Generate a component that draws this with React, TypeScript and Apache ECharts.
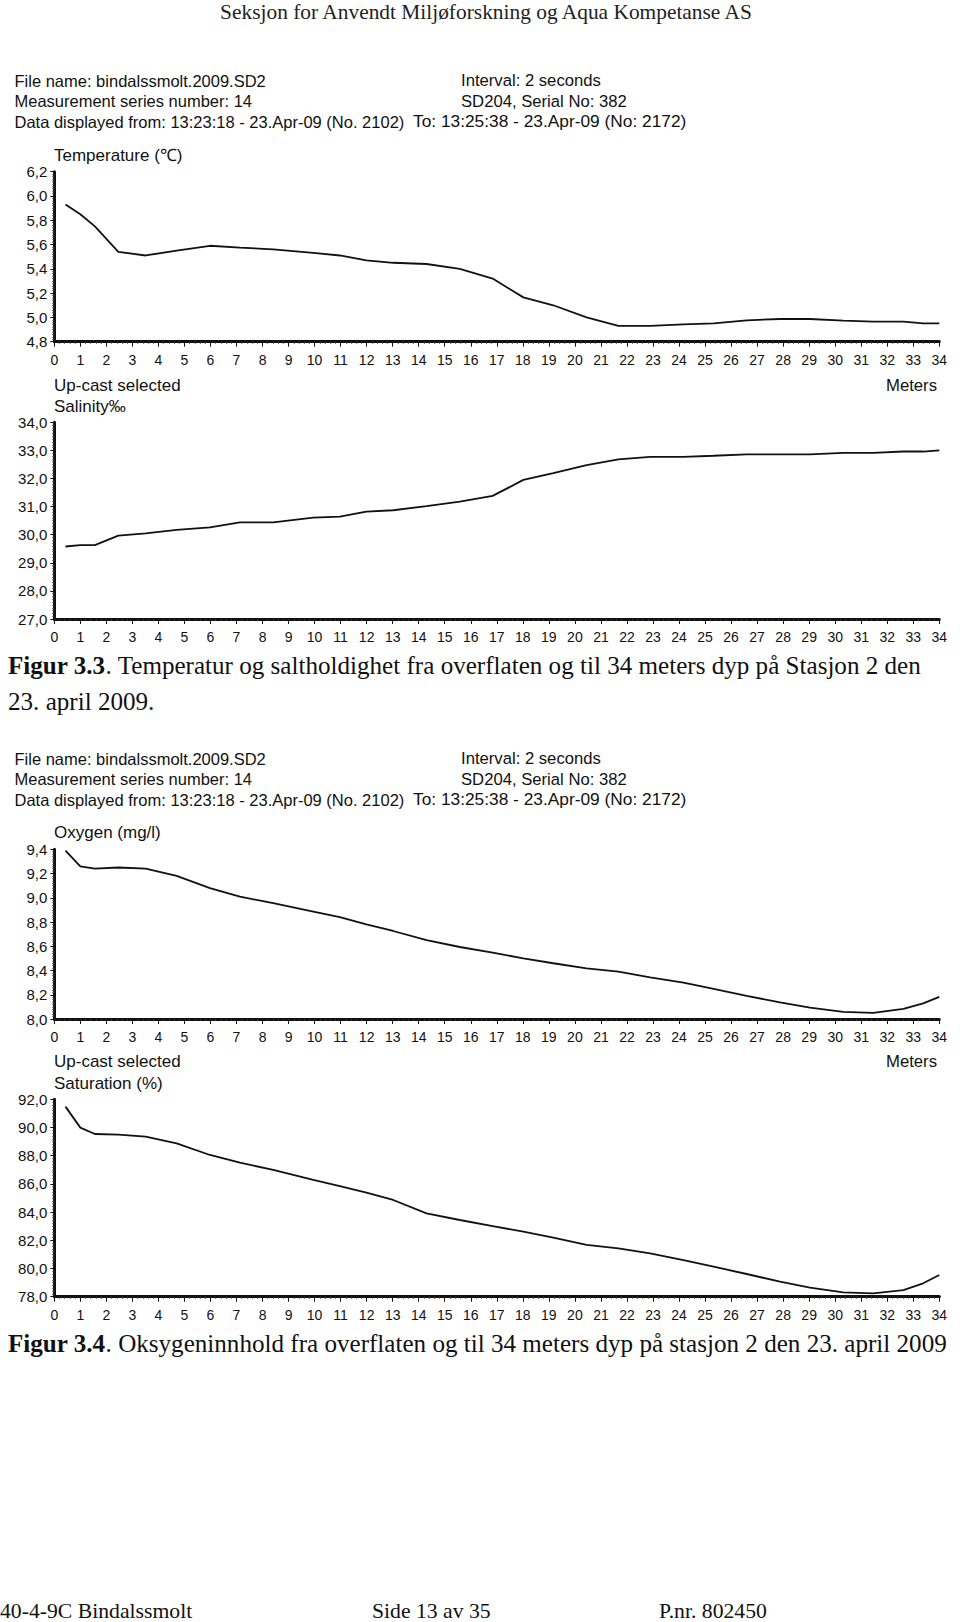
import React, { useEffect, useRef } from "react";
import * as echarts from "echarts";

// ---- data ----
const depths = [
  0.43, 1.0, 1.56, 2.46, 3.51, 4.7, 5.98, 7.13, 8.41, 9.95, 10.97, 11.99, 13.02, 14.3, 15.58, 16.84,
  18.02, 19.17, 20.45, 21.67, 22.89, 24.17, 25.33, 26.6, 27.88, 29.03, 30.31, 31.46, 32.62, 33.38, 34.0,
];
const temperature = [
  5.93, 5.85, 5.75, 5.54, 5.51, 5.55, 5.59, 5.575, 5.56, 5.532, 5.51, 5.47, 5.45, 5.44, 5.4, 5.32,
  5.165, 5.1, 5.0, 4.93, 4.93, 4.943, 4.951, 4.976, 4.987, 4.987, 4.973, 4.965, 4.965, 4.951, 4.951,
];
const salinity = [
  29.58, 29.63, 29.63, 29.97, 30.05, 30.17, 30.26, 30.44, 30.44, 30.61, 30.64, 30.82, 30.87, 31.02, 31.18, 31.38,
  31.95, 32.19, 32.48, 32.68, 32.77, 32.77, 32.81, 32.86, 32.86, 32.86, 32.91, 32.91, 32.96, 32.96, 33.0,
];
const oxygen = [
  9.39, 9.26, 9.24, 9.25, 9.24, 9.18, 9.08, 9.01, 8.955, 8.886, 8.84, 8.78, 8.726, 8.65, 8.594, 8.548,
  8.5, 8.46, 8.417, 8.39, 8.344, 8.3, 8.248, 8.19, 8.138, 8.094, 8.058, 8.05, 8.083, 8.129, 8.182,
];
const saturation = [
  91.48, 89.99, 89.54, 89.49, 89.35, 88.88, 88.05, 87.51, 86.99, 86.28, 85.85, 85.38, 84.86, 83.91, 83.44, 83.01,
  82.61, 82.19, 81.67, 81.43, 81.08, 80.6, 80.13, 79.61, 79.07, 78.64, 78.31, 78.24, 78.47, 78.95, 79.54,
];

const depthMin = 0;
const depthMax = 34;
const yRanges = [
  { min: 4.8, max: 6.2, interval: 0.2 },
  { min: 27, max: 34, interval: 1 },
  { min: 8.0, max: 9.4, interval: 0.2 },
  { min: 78, max: 92, interval: 2 },
];

const headerTitle = "Seksjon for Anvendt Miljøforskning og Aqua Kompetanse AS";
const infoLeft = [
  "File name: bindalssmolt.2009.SD2",
  "Measurement series number: 14",
  "Data displayed from: 13:23:18 - 23.Apr-09 (No. 2102)",
];
const infoRight = ["Interval: 2 seconds", "SD204, Serial No: 382", "To: 13:25:38 - 23.Apr-09 (No: 2172)"];

const SANS = "'Liberation Sans', Arial, sans-serif";
const SERIF = "'Liberation Serif', 'Times New Roman', serif";

const grids = [
  { left: 54.3, top: 171.7, width: 885, height: 170 },
  { left: 54.3, top: 422.3, width: 885, height: 196.7 },
  { left: 54.3, top: 849.3, width: 885, height: 169.7 },
  { left: 54.3, top: 1099.3, width: 885, height: 197.4 },
];

function txt(text: string, x: number, y: number, font: string, align = "left", fill = "#111", scaleX = 1) {
  return {
    type: "text",
    x,
    y,
    scaleX,
    silent: true,
    style: {
      text,
      font,
      fill,
      textAlign: align,
      align,
      textVerticalAlign: "middle",
      verticalAlign: "middle",
    },
  };
}

function infoBlock(ys: number[]) {
  const f = `16.5px ${SANS}`;
  return [
    txt(infoLeft[0], 14.5, ys[0], f),
    txt(infoLeft[1], 14.5, ys[1], f),
    txt(infoLeft[2], 14.5, ys[2], f),
    txt(infoRight[0], 461, ys[0], f, "left", "#111", 1.01),
    txt(infoRight[1], 461, ys[1], f, "left", "#111", 1.01),
    txt(infoRight[2], 413, ys[2], f, "left", "#111", 1.05),
  ];
}

function caption(bold: string, rest: string, x: number, y: number) {
  return {
    type: "text",
    x,
    y,
    silent: true,
    style: {
      text: `{b|${bold}}{r|${rest}}`,
      textAlign: "left",
      align: "left",
      textVerticalAlign: "middle",
      verticalAlign: "middle",
      fill: "#111",
      rich: {
        b: { font: `bold 25.1px ${SERIF}`, fill: "#111" },
        r: { font: `25.1px ${SERIF}`, fill: "#111" },
      },
    },
  };
}

export default function App() {
  const ref = useRef<HTMLDivElement>(null);
  useEffect(() => {
    if (!ref.current) return;
    const chart = echarts.init(ref.current, undefined, { renderer: "svg" });
    const series = [temperature, salinity, oxygen, saturation];
    const fmt = (v: number) => v.toFixed(1).replace(".", ",");
    const option: any = {
      animation: false,
      backgroundColor: "#fff",
      grid: grids.map((g) => ({ ...g, containLabel: false })),
      xAxis: grids.map((_, i) => ({
        type: "value",
        gridIndex: i,
        min: depthMin,
        max: depthMax,
        interval: 1,
        axisLine: { show: true, onZero: false, lineStyle: { color: "#111", width: 3 } },
        axisTick: { show: true, length: 5, lineStyle: { color: "#111", width: 1 } },
        minorTick: { show: true, splitNumber: 5, length: 2, lineStyle: { color: "#333", width: 1 } },
        splitLine: { show: false },
        minorSplitLine: { show: false },
        axisLabel: { fontSize: 14, fontFamily: SANS, color: "#111", margin: 11 },
      })),
      yAxis: yRanges.map((r, i) => ({
        type: "value",
        gridIndex: i,
        min: r.min,
        max: r.max,
        interval: r.interval,
        axisLine: { show: true, onZero: false, lineStyle: { color: "#111", width: 3 } },
        axisTick: { show: true, length: 4, lineStyle: { color: "#111", width: 1 } },
        minorTick: { show: true, splitNumber: 10, length: 2, lineStyle: { color: "#444", width: 1 } },
        splitLine: { show: false },
        minorSplitLine: { show: false },
        axisLabel: { fontSize: 15, fontFamily: SANS, color: "#111", margin: 7, formatter: fmt },
      })),
      series: series.map((vals, i) => ({
        type: "line",
        xAxisIndex: i,
        yAxisIndex: i,
        data: depths.map((d, k) => [d, vals[k]]),
        symbol: "none",
        silent: true,
        lineStyle: { color: "#111", width: 1.8 },
      })),
      graphic: [
        txt(headerTitle, 486, 12.4, `21.4px ${SERIF}`, "center", "#222"),
        ...infoBlock([80.7, 101.4, 122]),
        txt("Temperature (℃)", 54, 155, `17px ${SANS}`),
        txt("Up-cast selected", 54, 385, `17px ${SANS}`),
        txt("Salinity‰", 54, 406.5, `17px ${SANS}`),
        txt("Meters", 937, 385, `16.7px ${SANS}`, "right"),
        caption("Figur 3.3", ". Temperatur og saltholdighet fra overflaten og til 34 meters dyp på Stasjon 2 den", 8, 665),
        txt("23. april 2009.", 8, 701, `25.1px ${SERIF}`),
        ...infoBlock([758.5, 779.2, 800]),
        txt("Oxygen (mg/l)", 54, 832, `17px ${SANS}`),
        txt("Up-cast selected", 54, 1061, `17px ${SANS}`),
        txt("Saturation (%)", 54, 1083, `17px ${SANS}`),
        txt("Meters", 937, 1061, `16.7px ${SANS}`, "right"),
        caption("Figur 3.4", ". Oksygeninnhold fra overflaten og til 34 meters dyp på stasjon 2 den 23. april 2009", 8, 1343),
        txt("40-4-9C Bindalssmolt", 0, 1611, `21.7px ${SERIF}`),
        txt("Side 13 av 35", 372, 1611, `21.7px ${SERIF}`),
        txt("P.nr. 802450", 659, 1611, `21.7px ${SERIF}`),
      ],
    };
    chart.setOption(option);
    return () => chart.dispose();
  }, []);
  return (
    <div
      ref={ref}
      style={{ position: "absolute", left: 0, top: 0, width: 960, height: 1622, background: "#fff" }}
    />
  );
}
